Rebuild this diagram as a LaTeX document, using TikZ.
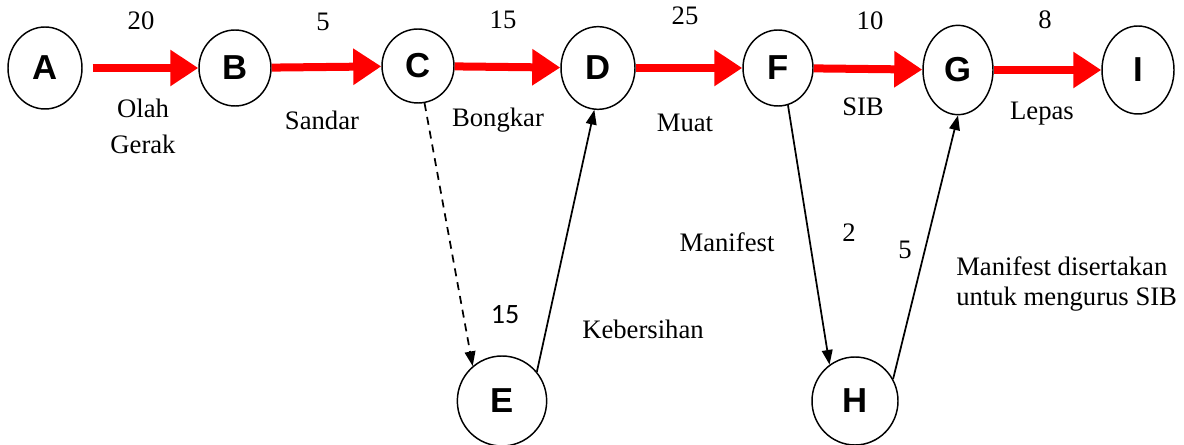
\documentclass[tikz,border=0pt]{standalone}
\usepackage{fontspec}
\setmainfont{Liberation Serif}
\setsansfont{Liberation Sans}
\newfontfamily\calibrifont{Carlito}
\usepackage{tikz}
\usetikzlibrary{shapes.geometric}
\usetikzlibrary{arrows.meta}

\begin{document}
\begin{tikzpicture}[x=0.75pt,y=0.75pt,yscale=-1,xscale=1,
    event/.style={draw,ellipse,line width=1.1pt,fill=white,inner sep=0pt,font=\fontsize{26}{26}\selectfont\sffamily\bfseries},
    lbl/.style={inner sep=0.75pt,font=\fontsize{20}{22}\selectfont},
    flow/.style={draw=red,line width=6pt,-{Triangle[length=21pt 0,width=26pt 0]}},
    link/.style={line width=1.3pt,-{Triangle[length=11pt 0,width=8pt 0]}}]
    \path [use as bounding box,fill=white] (0,0) rectangle (1184,445);
    \draw (45,68) node (A) [event,minimum width=55.5pt,minimum height=61.5pt] {A};
    \draw (235,68) node (B) [event,minimum width=54pt,minimum height=57pt] {B};
    \draw (418,66) node (C) [event,minimum width=54pt,minimum height=55.5pt] {C};
    \draw (598,68) node (D) [event,minimum width=55.5pt,minimum height=62pt] {D};
    \draw (778,68) node (F) [event,minimum width=52.5pt,minimum height=57pt] {F};
    \draw (958,70) node (G) [event,minimum width=52.5pt,minimum height=67pt] {G};
    \draw (1138,70) node (I) [event,minimum width=54pt,minimum height=66pt] {I};
    \draw (502,401) node (E) [event,minimum width=67pt,minimum height=67.5pt] {E};
    \draw (855,401) node (H) [event,minimum width=64.5pt,minimum height=66pt] {H};
    \draw [flow,shorten <=7.5pt] (A) -- (B);
    \draw [flow] (B) -- (C);
    \draw [flow] (C) -- (D);
    \draw [flow] (D) -- (F);
    \draw [flow] (F) -- (G);
    \draw [flow] (G) -- (I);
    \draw [link,dash pattern=on 6pt off 4.5pt] (C.-80) -- (E.130);
    \draw [link] (E.40) -- (D.-95);
    \draw [link] (F.-75) -- (H.125);
    \draw [link] (H.30) -- (G.-90);
    \draw (141,21) node (wAB) [lbl] {20};
    \draw (323,22) node (wBC) [lbl] {5};
    \draw (503,20) node (wCD) [lbl] {15};
    \draw (685,16) node (wDF) [lbl] {25};
    \draw (870,21) node (wFG) [lbl] {10};
    \draw (1045,20) node (wGI) [lbl] {8};
    \draw (143,126) node (tAB) [lbl,align=center] {Olah\\[5pt]Gerak};
    \draw (322,120) node (tBC) [lbl] {Sandar};
    \draw (498,120) node (tCD) [lbl] {Bongkar};
    \draw (685,123) node (tDF) [lbl] {Muat};
    \draw (863,107) node (tFG) [lbl] {SIB};
    \draw (1042,114) node (tGI) [lbl] {Lepas};
    \draw (505,315) node (wCE) [inner sep=0.75pt,font=\calibrifont\fontsize{21}{21}\selectfont] {15};
    \draw (643,329) node (tED) [lbl] {Kebersihan};
    \draw (727,242) node (tFH) [lbl] {Manifest};
    \draw (849,233) node (wFH) [lbl] {2};
    \draw (905,250) node (wHG) [lbl] {5};
    \draw (955,284) node (tHG) [lbl,anchor=west,align=left] {Manifest disertakan\\untuk mengurus SIB};
\end{tikzpicture}
\end{document}
